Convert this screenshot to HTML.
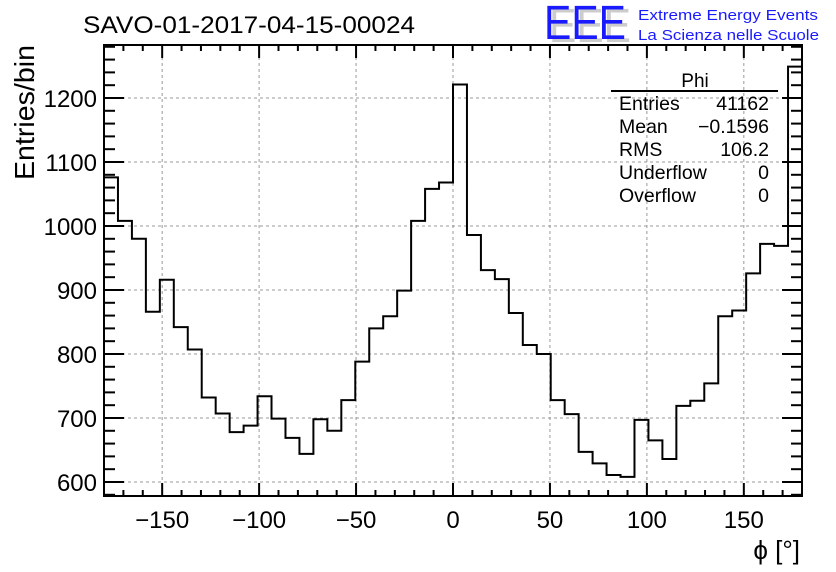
<!DOCTYPE html>
<html><head><meta charset="utf-8"><style>
html,body{margin:0;padding:0;background:#fff;}
svg{display:block;font-family:"Liberation Sans",Arial,sans-serif;}
</style></head><body>
<svg id="chart" width="836" height="572" viewBox="0 0 836 572">
<rect width="836" height="572" fill="#fff"/>
<text x="83" y="33" font-size="24" textLength="332" lengthAdjust="spacingAndGlyphs">SAVO-01-2017-04-15-00024</text>
<g>
<text x="549" y="42" font-size="48" fill="#ccc" textLength="82" lengthAdjust="spacingAndGlyphs">EEE</text>
<text x="544" y="39" font-size="48" fill="#1a1aff" textLength="82" lengthAdjust="spacingAndGlyphs">EEE</text>
<text x="638" y="20" font-size="15" fill="#1a1aff" textLength="180" lengthAdjust="spacingAndGlyphs">Extreme Energy Events</text>
<text x="638" y="40" font-size="15" fill="#1a1aff" textLength="181" lengthAdjust="spacingAndGlyphs">La Scienza nelle Scuole</text>
</g>
<g id="grid"></g>
<g id="axes"></g>
<path id="hist" fill="none" stroke="#000" stroke-width="2"/>
<rect x="104" y="45" width="698" height="451" fill="none" stroke="#000" stroke-width="2"/>
<text transform="translate(34,180) rotate(-90)" font-size="28" textLength="135" lengthAdjust="spacingAndGlyphs">Entries/bin</text>
<text x="800" y="559" font-size="26" text-anchor="end">ϕ [°]</text>
<g>
<text x="695" y="87" font-size="19" text-anchor="middle">Phi</text>
<line x1="611" y1="91" x2="778" y2="91" stroke="#000" stroke-width="2"/>
<g font-size="19.5">
<text x="619" y="110">Entries</text><text x="769" y="110" text-anchor="end">41162</text>
<text x="619" y="133">Mean</text><text x="769" y="133" text-anchor="end">−0.1596</text>
<text x="619" y="156">RMS</text><text x="769" y="156" text-anchor="end">106.2</text>
<text x="619" y="179">Underflow</text><text x="769" y="179" text-anchor="end">0</text>
<text x="619" y="202">Overflow</text><text x="769" y="202" text-anchor="end">0</text>
</g></g>
</svg>
<script>
const binEdgesStart = -180;
const binWidth = 7.2;
const counts = [1076,1008,980,866,916,842,807,732,707,678,688,734,699,669,644,698,680,728,788,840,859,899,1008,1058,1068,
1221,986,931,917,864,814,800,728,706,647,629,611,608,697,665,636,719,727,754,859,868,926,972,969,1249];
const xTicks = [-150,-100,-50,0,50,100,150];
const xTickLabels = ["−150","−100","−50","0","50","100","150"];
const yTicks = [600,700,800,900,1000,1100,1200];
const yTickLabels = ["600","700","800","900","1000","1100","1200"];
const xMin=-180,xMax=180,yMin=578.1,yMax=1282.8;
const L=104,R=802,T=45,B=496;
const X=v=>L+(v-xMin)/(xMax-xMin)*(R-L);
const Y=v=>B-(v-yMin)/(yMax-yMin)*(B-T);
const NS="http://www.w3.org/2000/svg";
const grid=document.getElementById('grid'), axes=document.getElementById('axes');
function mk(tag,attrs,parent){const e=document.createElementNS(NS,tag);for(const k in attrs)e.setAttribute(k,attrs[k]);parent.appendChild(e);return e;}
xTicks.forEach((t,i)=>{
  const g=mk('line',{x1:X(t),x2:X(t),y1:T,y2:B,stroke:'#999','stroke-dasharray':'3,3','stroke-width':1},grid);
  
  
  const lb=mk('text',{x:X(t),y:528,'font-size':24,'text-anchor':'middle'},axes);
  lb.textContent=xTickLabels[i];
  
  
});
yTicks.forEach((t,i)=>{
  const g=mk('line',{x1:L,x2:R,y1:Y(t),y2:Y(t),stroke:'#999','stroke-dasharray':'3,3','stroke-width':1},grid);
  
  
  const lb=mk('text',{x:97,y:Y(t)+9,'font-size':24,'text-anchor':'end'},axes);
  lb.textContent=yTickLabels[i];
  
  
});
for(let v=-180;v<=180;v+=10){
  const len=(v%50===0)?13:6;
  const a=mk('line',{x1:X(v),x2:X(v),y1:B,y2:B-len,stroke:'#000','stroke-width':2},axes);
  
  
  const b=mk('line',{x1:X(v),x2:X(v),y1:T,y2:T+len,stroke:'#000','stroke-width':2},axes);
  
  
}
for(let v=580;v<=1280;v+=20){
  const len=(v%100===0)?20:11;
  const a=mk('line',{x1:L,x2:L+len,y1:Y(v),y2:Y(v),stroke:'#000','stroke-width':2},axes);
  
  
  const b=mk('line',{x1:R,x2:R-len,y1:Y(v),y2:Y(v),stroke:'#000','stroke-width':2},axes);
  
  
}
let d='M'+X(binEdgesStart)+','+B;
counts.forEach((c,i)=>{
  const x0=X(binEdgesStart+i*binWidth), x1=X(binEdgesStart+(i+1)*binWidth);
  d+=' L'+x0+','+Y(c)+' L'+x1+','+Y(c);
});
document.getElementById('hist').setAttribute('d',d);
</script>
</body></html>
